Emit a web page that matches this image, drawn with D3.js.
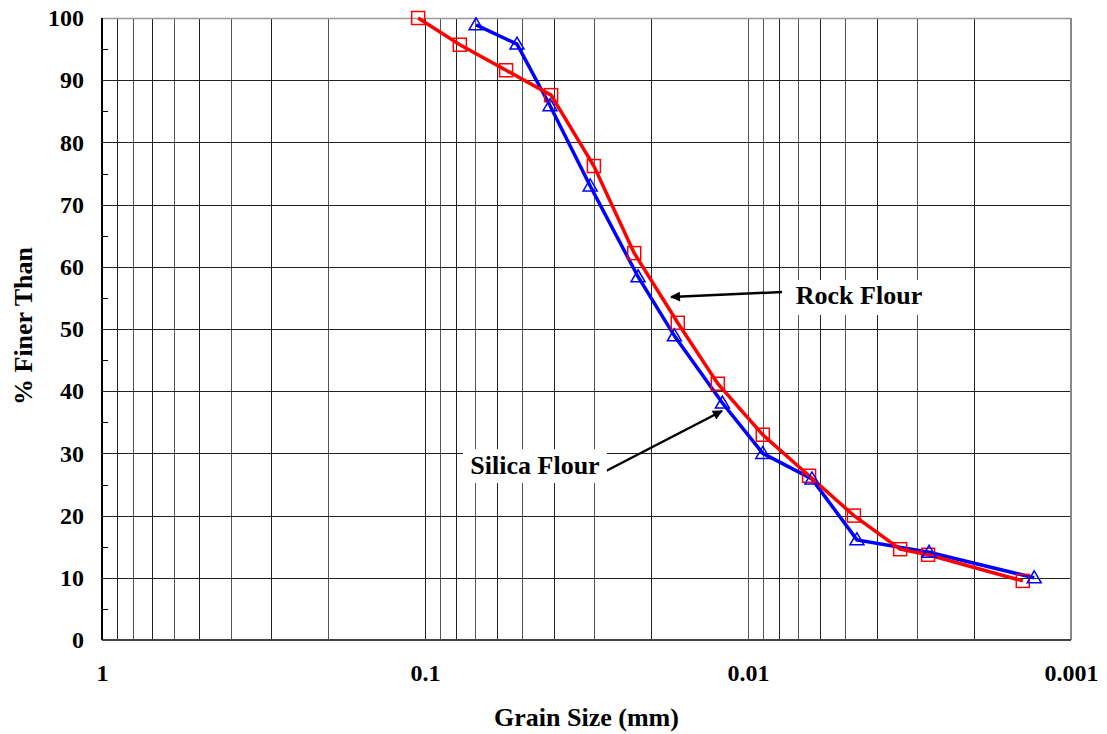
<!DOCTYPE html>
<html><head><meta charset="utf-8">
<script src="https://cdn.jsdelivr.net/npm/d3@7"></script>
<style>body{margin:0;background:#fff}svg{display:block}text{font-family:"Liberation Serif","Times New Roman",serif;font-weight:bold}</style>
</head><body><svg id="c" width="1107" height="734"></svg>
<script>
const rockSize = [0.105,0.078,0.0561,0.0407,0.030,0.0225,0.0165,0.0124,0.0090,0.00647,0.0047,0.00338,0.00277,0.00141];
const rockPct  = [100,95.7,91.6,87.6,76.2,62.2,51.0,41.2,33.0,26.4,20.0,14.6,13.7,9.5];
const silicaSize = [0.0695,0.0519,0.041,0.0308,0.0219,0.0169,0.0120,0.0090,0.00634,0.0046,0.00275,0.0013];
const silicaPct  = [98.9,95.8,85.9,73.0,58.4,48.9,38.1,30.0,25.9,16.1,14.1,10.0];
const xTickLabels = ["1","0.1","0.01","0.001"];
const yTicks = [0,10,20,30,40,50,60,70,80,90,100];

const svg = d3.select("#c");
const L=102, R=1071, T=18, B=640;
const x = d3.scaleLog().domain([1,0.001]).range([L,R]);
const y = d3.scaleLinear().domain([0,100]).range([B,T]);

// grid
const minor=[];
for (let e=0;e>-3;e--) for (let m=1;m<10;m++) minor.push(m*Math.pow(10,e-1));
const g = svg.append("g");
g.selectAll(".vg").data(minor.filter(v=>v<1 && v>0.001)).enter().append("line")
 .attr("x1",d=>Math.round(x(d))+0.5).attr("x2",d=>Math.round(x(d))+0.5).attr("y1",T).attr("y2",B)
 .attr("stroke",(d,i)=>i%2?"#555":"#222").attr("stroke-width",1);
g.selectAll(".hg").data(yTicks.filter(v=>v>0&&v<100)).enter().append("line")
 .attr("x1",L).attr("x2",R).attr("y1",d=>Math.round(y(d))+0.5).attr("y2",d=>Math.round(y(d))+0.5)
 .attr("stroke","#222").attr("stroke-width",1);
// frame
svg.append("line").attr("x1",L).attr("x2",R).attr("y1",T+0.5).attr("y2",T+0.5).attr("stroke","#999").attr("stroke-width",1.5);
svg.append("line").attr("x1",R).attr("x2",R).attr("y1",T).attr("y2",B).attr("stroke","#888").attr("stroke-width",2);
svg.append("line").attr("x1",L).attr("x2",R).attr("y1",B).attr("y2",B).attr("stroke","#444").attr("stroke-width",2);
svg.append("line").attr("x1",L).attr("x2",L).attr("y1",T).attr("y2",B).attr("stroke","#000").attr("stroke-width",2);

// y axis
const yAxis = d3.axisLeft(y).tickValues(yTicks).tickSize(0).tickPadding(18);
const ya = svg.append("g").attr("transform",`translate(${L},0)`).call(yAxis);
ya.select(".domain").remove();
ya.selectAll("text").attr("font-size",24).attr("font-family","Liberation Serif").attr("font-weight","bold").attr("fill","#000");
// minor y ticks
svg.selectAll(".ym").data(d3.range(5,100,10)).enter().append("line")
 .attr("x1",L).attr("x2",L+6).attr("y1",d=>Math.round(y(d))+0.5).attr("y2",d=>Math.round(y(d))+0.5).attr("stroke","#000");

// x axis
const xAxis = d3.axisBottom(x).tickValues([1,0.1,0.01,0.001]).tickFormat((d,i)=>xTickLabels[i]).tickSize(0).tickPadding(24);
const xa = svg.append("g").attr("transform",`translate(0,${B})`).call(xAxis);
xa.select(".domain").remove();
xa.selectAll("text").attr("font-size",24).attr("font-family","Liberation Serif").attr("font-weight","bold").attr("fill","#000");

svg.append("text").attr("x",(L+R)/2).attr("y",726).attr("text-anchor","middle").attr("font-size",26).text("Grain Size (mm)");
svg.append("text").attr("transform",`translate(32,${326}) rotate(-90)`).attr("text-anchor","middle").attr("font-size",26).text("% Finer Than");

// series
const line = d3.line().x(d=>x(d[0])).y(d=>y(d[1]));
const rock = rockSize.map((s,i)=>[s,rockPct[i]]);
const sil = silicaSize.map((s,i)=>[s,silicaPct[i]]);
svg.append("path").datum(sil).attr("d",line).attr("fill","none").attr("stroke","#0000ff").attr("stroke-width",3.5);
svg.append("path").datum(rock).attr("d",line).attr("fill","none").attr("stroke","#ff0000").attr("stroke-width",3.5);
svg.selectAll(".sq").data(rock).enter().append("rect")
 .attr("x",d=>x(d[0])-6.5).attr("y",d=>y(d[1])-6.5).attr("width",13).attr("height",13)
 .attr("fill","none").attr("stroke","#ff0000").attr("stroke-width",1.5);
svg.selectAll(".tr").data(sil).enter().append("path")
 .attr("d",d=>{const cx=x(d[0]),cy=y(d[1]);return `M${cx},${cy-7}L${cx+7},${cy+5}L${cx-7},${cy+5}Z`;})
 .attr("fill","none").attr("stroke","#0000ff").attr("stroke-width",1.5);

// annotations
svg.append("defs").append("marker").attr("id","ah").attr("viewBox","0 0 10 10").attr("refX",9).attr("refY",5)
 .attr("markerWidth",5).attr("markerHeight",4).attr("orient","auto").attr("markerUnits","strokeWidth")
 .append("path").attr("d","M0,0L10,5L0,10Z").attr("fill","#000");
svg.append("line").attr("x1",782).attr("y1",292).attr("x2",671).attr("y2",297).attr("stroke","#000").attr("stroke-width",2.5).attr("marker-end","url(#ah)");
svg.append("line").attr("x1",606).attr("y1",471).attr("x2",722).attr("y2",411).attr("stroke","#000").attr("stroke-width",2.5).attr("marker-end","url(#ah)");
svg.append("rect").attr("x",786).attr("y",280).attr("width",145).attr("height",35).attr("fill","#fff");
svg.append("text").attr("x",859).attr("y",304).attr("text-anchor","middle").attr("font-size",26).text("Rock Flour");
svg.append("rect").attr("x",463).attr("y",449).attr("width",144).attr("height",34).attr("fill","#fff");
svg.append("text").attr("x",535).attr("y",474).attr("text-anchor","middle").attr("font-size",26).text("Silica Flour");
</script></body></html>
